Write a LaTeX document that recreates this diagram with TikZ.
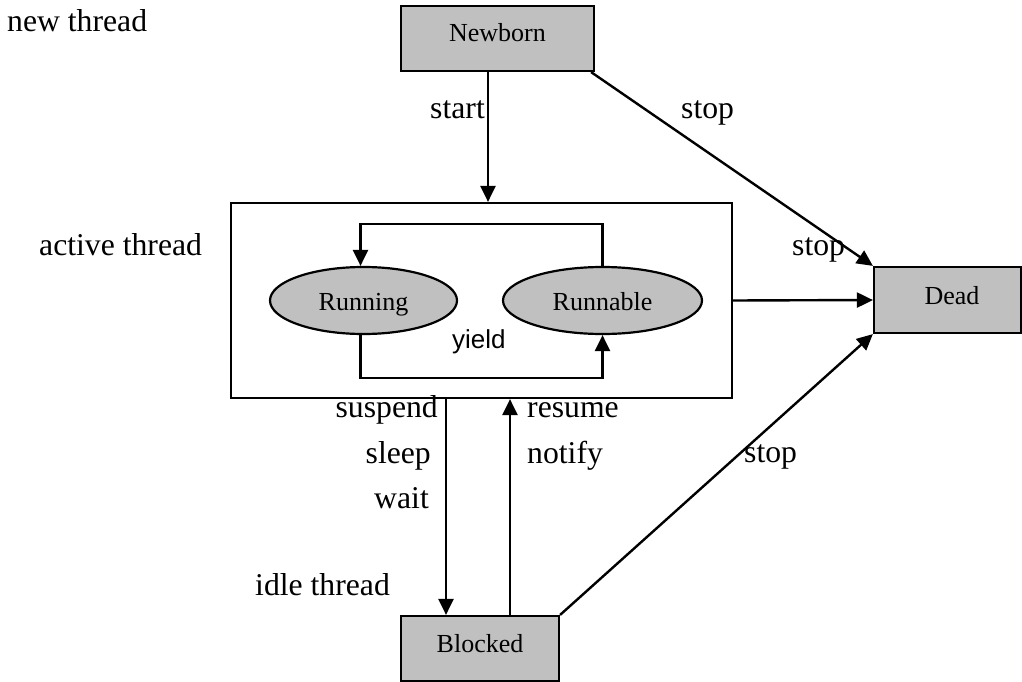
\documentclass[tikz,border=0pt]{standalone}
\usepackage{fontspec}
\setmainfont{Liberation Serif}
\newfontfamily\yieldfont{Liberation Sans}
\usetikzlibrary{arrows.meta,shapes.geometric,calc}
\definecolor{boxgray}{RGB}{192,192,192}
\begin{document}
\begin{tikzpicture}[x=1pt,y=-1pt,
  statebox/.style={draw,line width=2.2pt,fill=boxgray,inner sep=0pt,
    font=\fontsize{26}{30}\selectfont},
  stateoval/.style={statebox,ellipse},
  lbl/.style={inner sep=0pt,font=\fontsize{31.7}{38}\selectfont},
  arr/.style={line width=2.4pt,-{Triangle[length=16pt,width=15pt]}}]
\useasboundingbox (0,0) rectangle (1022,682);

% thread states
\node[statebox,minimum width=193,minimum height=65,text height=10pt,text depth=3pt]
  (newborn) at (497.5,38.5) {Newborn\hspace{23pt}};
\node[draw,line width=2.2pt,minimum width=501,minimum height=195]
  (active) at (481.5,300.5) {};
\node[stateoval,minimum width=187,minimum height=67,text height=19pt,text depth=0pt]
  (running) at (363.5,300.5) {Running\hspace{11pt}};
\node[stateoval,minimum width=199,minimum height=67,text height=19pt,text depth=0pt]
  (runnable) at (602.5,300.5) {Runnable\hspace{11pt}};
\node[statebox,minimum width=147,minimum height=66,text height=11pt,text depth=3pt]
  (dead) at (947.5,300) {\hspace{9pt}Dead};
\node[statebox,minimum width=158,minimum height=65,text height=10pt,text depth=3pt]
  (blocked) at (480,648.5) {Blocked\hspace{4pt}};

% transitions
\draw[arr] ([xshift=-9.5]newborn.south) -- ([xshift=-9.5]newborn.south |- active.north);
\draw[arr] ([xshift=-4]newborn.south east) -- (dead.north west);
\draw[arr] (active.east) -- (dead.west);
\draw[arr] (blocked.north east) -- (dead.south west);
\draw[arr] ([xshift=-34]blocked.north |- active.south) -- ([xshift=-34]blocked.north);
\draw[arr] ([xshift=30]blocked.north) -- ([xshift=30]blocked.north |- active.south);
\draw[arr] (runnable.north) -- ++(0,-42) -| ([xshift=-3]running.north);
\draw[arr] ([xshift=-3]running.south) -- ++(0,43) -| (runnable.south);

% captions and transition labels
\node[lbl,anchor=base west] (lnew) at (7,32) {new thread};
\node[lbl,anchor=base west] (lactive) at (39,255) {active thread};
\node[lbl,anchor=base west] (lidle) at (255,595) {idle thread};
\node[lbl,anchor=base east] (lstart) at (485,119) {start};
\node[lbl,anchor=base west] (lstopa) at (681,119) {stop};
\node[lbl,anchor=base west] (lstopb) at (792,255) {stop};
\node[lbl,anchor=base west] (lstopc) at (744,462) {stop};
\node[lbl,anchor=base east] (lsuspend) at (438,417) {suspend};
\node[lbl,anchor=base east] (lsleep) at (431,463) {sleep};
\node[lbl,anchor=base east] (lwait) at (429,508) {wait};
\node[lbl,anchor=base west] (lresume) at (527,417) {resume};
\node[lbl,anchor=base west] (lnotify) at (527,463) {notify};
\node[inner sep=0pt,anchor=base west,font=\yieldfont\fontsize{26}{30}\selectfont]
  (lyield) at (452,348) {yield};
\end{tikzpicture}
\end{document}
